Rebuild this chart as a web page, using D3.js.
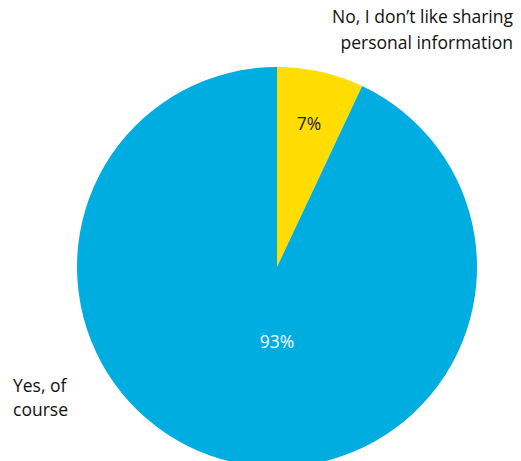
<!DOCTYPE html>
<html><head><meta charset="utf-8">
<script src="https://cdn.jsdelivr.net/npm/d3@7"></script>
<style>body{margin:0;background:#fff}svg{display:block}text{font-family:"Open Sans",sans-serif;}</style>
</head><body><svg id="c" width="521" height="461"></svg>
<script>
const categories = ["No, I don’t like sharing personal information", "Yes, of course"];
const values = [7, 93];
const valueLabels = ["7%", "93%"];
const colors = ["#FFDD00", "#00ADE0"];

const svg = d3.select("#c");
const cx = 277, cy = 267, r = 200;
const g = svg.append("g").attr("transform", `translate(${cx},${cy})`);
const pie = d3.pie().sort(null).value(d => d.v);
const data = pie(values.map((v, i) => ({v, i})));
const arc = d3.arc().innerRadius(0).outerRadius(r);
g.selectAll("path").data(data).join("path")
  .attr("d", arc).attr("fill", d => colors[d.data.i]);

// value labels
const labelArc = d3.arc().innerRadius(r * 0.735).outerRadius(r * 0.735);
g.selectAll("text.v").data(data).join("text").attr("class", "v")
  .attr("transform", (d, i) => i === 0 ? `translate(${labelArc.centroid(d)})` : `translate(0, 75)`)
  .attr("text-anchor", "middle").attr("dy", "0.35em")
  .attr("font-size", 17.5)
  .attr("fill", (d, i) => i === 0 ? "#222" : "#fff")
  .text((d, i) => valueLabels[i]);

// category labels
const lab1 = svg.append("text").attr("text-anchor", "end").attr("font-size", 17.5).attr("fill", "#111");
lab1.append("tspan").attr("x", 513).attr("y", 23).text("No, I don’t like sharing");
lab1.append("tspan").attr("x", 513).attr("y", 49).text("personal information");
const lab2 = svg.append("text").attr("text-anchor", "start").attr("font-size", 17.5).attr("fill", "#111");
lab2.append("tspan").attr("x", 13).attr("y", 392).text("Yes, of");
lab2.append("tspan").attr("x", 13).attr("y", 416).text("course");
</script></body></html>
